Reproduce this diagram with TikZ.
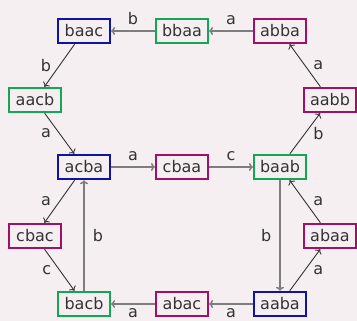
\documentclass[tikz,border=0pt]{standalone}
\usepackage{fontspec}
\setmainfont{DejaVu Sans}
\usetikzlibrary{arrows.meta}
\definecolor{bgc}{RGB}{245,239,242}
\definecolor{cblue}{RGB}{16,20,160}
\definecolor{cgreen}{RGB}{20,165,85}
\definecolor{cmag}{RGB}{160,16,100}
\definecolor{ink}{RGB}{51,51,51}
\definecolor{soft}{RGB}{125,125,125}
\begin{document}
\begin{tikzpicture}[x=1pt,y=-1pt,
  font=\fontsize{16}{18}\selectfont, text=ink,
  word/.style={draw, line width=2pt, fill=bgc, minimum width=52pt, minimum height=24.5pt, inner sep=2pt},
  wb/.style={word, draw=cblue},
  wg/.style={word, draw=cgreen},
  wm/.style={word, draw=cmag},
  lbl/.style={inner sep=8pt, text=ink},
  lblup/.style={inner sep=6pt, text=ink, above},
  lbldown/.style={inner sep=4pt, text=ink, below},
  hard/.style={draw=ink, line width=0.9pt, -{To[length=4pt,width=8pt]}},
  light/.style={draw=soft, line width=1.5pt, -{To[length=4pt,width=8pt]}}]
\fill[bgc] (0,0) rectangle (357,321);
\useasboundingbox (0,0) rectangle (357,321);
% words
\node[wb] (baac) at (84,31) {baac};
\node[wg] (bbaa) at (182,31) {bbaa};
\node[wm] (abba) at (280,31) {abba};
\node[wg] (aacb) at (35,100) {aacb};
\node[wm] (aabb) at (330,100) {aabb};
\node[wb] (acba) at (84,167) {acba};
\node[wm] (cbaa) at (182,167) {cbaa};
\node[wg] (baab) at (280,167) {baab};
\node[wm] (cbac) at (35,236) {cbac};
\node[wm] (abaa) at (330,236) {abaa};
\node[wg] (bacb) at (84,304) {bacb};
\node[wm] (abac) at (182,304) {abac};
\node[wb] (aaba) at (280,304) {aaba};
% transitions
\draw[light] (abba) -- node[lblup] {a} (bbaa);
\draw[light] (bbaa) -- node[lblup] {b} (baac);
\draw[hard] (baac) -- node[lbl, left] {b} (aacb);
\draw[hard] (aacb) -- node[lbl, left] {a} (acba);
\draw[light] (acba) -- node[lblup] {a} (cbaa);
\draw[light] (cbaa) -- node[lblup] {c} (baab);
\draw[hard] (baab) -- node[lbl, right] {b} (aabb);
\draw[hard] (aabb) -- node[lbl, right] {a} (abba);
\draw[hard] (acba) -- node[lbl, left] {a} (cbac);
\draw[hard] (cbac) -- node[lbl, left] {c} (bacb);
\draw[light] (bacb) -- node[lbl, right] {b} (acba);
\draw[light] (baab) -- node[lbl, left] {b} (aaba);
\draw[hard] (aaba) -- node[lbl, right] {a} (abaa);
\draw[hard] (abaa) -- node[lbl, right] {a} (baab);
\draw[light] (aaba) -- node[lbldown] {a} (abac);
\draw[light] (abac) -- node[lbldown] {a} (bacb);
\end{tikzpicture}
\end{document}
